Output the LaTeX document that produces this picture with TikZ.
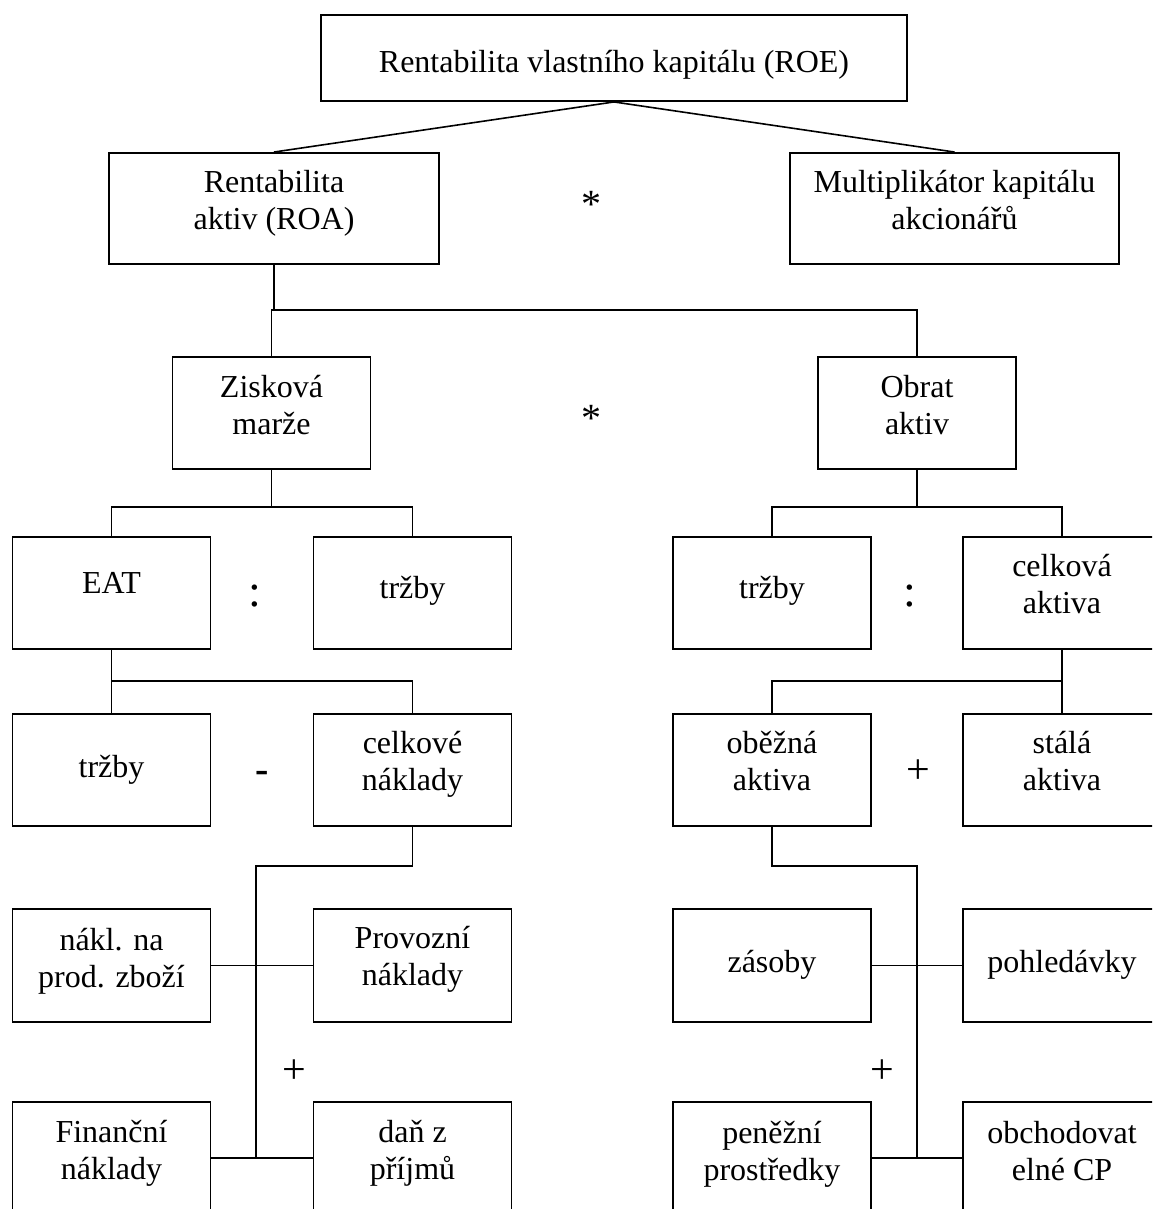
\documentclass[tikz,border=0pt]{standalone}
\usepackage{fontspec}
\setmainfont{Liberation Serif}
% two centred lines; the first baseline is the reference point
\newcommand\stackedtext[2]{\vtop{\halign{\hfil##\hfil\cr#1\cr#2\cr}}}
\begin{document}
\begin{tikzpicture}[x=1pt,y=-1pt,
  box/.style={draw, line width=1.9pt, inner sep=0pt, minimum width=198pt,
    minimum height=112pt, font=\fontsize{32}{37}\selectfont},
  tb/.style 2 args={text height=#1pt, text depth=#2pt},
  link/.style={line width=1.6pt},
  op/.style={inner sep=0pt, font=\fontsize{32}{37}\selectfont},
  bigop/.style={inner sep=0pt, font=\fontsize{42}{42}\selectfont}]

\useasboundingbox (0,0) rectangle (1152,1209);
\clip (0,0) rectangle (1152,1209);
\fill[white] (0,0) rectangle (1152,1209);

% level 0 and 1
\node[box, minimum width=586pt, minimum height=86pt, tb={58}{28}] (roe) at (614,58)
  {Rentabilita vlastního kapitálu (ROE)};
\node[box, minimum width=330pt, minimum height=111pt, tb={40}{71}] (roa) at (274,208.5)
  {\stackedtext{Rentabilita}{aktiv (ROA)}};
\node[box, minimum width=329pt, minimum height=111pt, tb={40}{71}] (mult) at (954.5,208.5)
  {\stackedtext{Multiplikátor kapitálu}{akcionářů}};
\node[op, font=\fontsize{40}{40}\selectfont] (op1) at (591,204) {*};

% level 2
\node[box, tb={40}{72}] (zisk) at (271.5,413) {\stackedtext{Zisková}{marže}};
\node[box, tb={40}{72}] (obrat) at (917,413) {\stackedtext{Obrat}{aktiv}};
\node[op, font=\fontsize{40}{40}\selectfont] (op2) at (591,418) {*};

% level 3
\node[box, tb={56}{56}] (eat) at (111.5,593) {EAT};
\node[box, tb={61}{51}] (trzA) at (412.5,593) {tržby};
\node[box, tb={61}{51}] (trzC) at (772,593) {tržby};
\node[box, tb={39}{73}] (celk) at (1062,593) {\stackedtext{celková}{aktiva}};
\node[op, font=\fontsize{46}{46}\selectfont] (op3) at (255,596) {:};
\node[op, font=\fontsize{46}{46}\selectfont] (op4) at (910,596) {:};

% level 4
\node[box, tb={63}{49}] (trzB) at (111.5,770) {tržby};
\node[box, tb={39}{73}] (naklc) at (412.5,770) {\stackedtext{celkové}{náklady}};
\node[box, tb={39}{73}] (obez) at (772,770) {\stackedtext{oběžná}{aktiva}};
\node[box, tb={39}{73}] (stala) at (1062,770) {\stackedtext{stálá}{aktiva}};
\node[op, font=\bfseries\fontsize{40}{40}\selectfont] (op5) at (262,777) {-};
\node[bigop] (op6) at (918,772) {+};

% level 5
\node[box, minimum height=113pt, tb={41}{72}] (nakl) at (111.5,965.5) {\stackedtext{nákl. na}{prod. zboží}};
\node[box, minimum height=113pt, tb={39}{74}] (prov) at (412.5,965.5) {\stackedtext{Provozní}{náklady}};
\node[box, minimum height=113pt, tb={63}{50}] (zas) at (772,965.5) {zásoby};
\node[box, minimum height=113pt, tb={63}{50}] (pohl) at (1062,965.5) {pohledávky};
\node[bigop] (op7) at (294,1072) {+};
\node[bigop] (op8) at (882,1072) {+};

% level 6
\node[box, tb={40}{72}] (fin) at (111.5,1158) {\stackedtext{Finanční}{náklady}};
\node[box, tb={40}{72}] (dan) at (412.5,1158) {\stackedtext{daň z}{příjmů}};
\node[box, tb={41}{71}] (pen) at (772,1158) {\stackedtext{peněžní}{prostředky}};
\node[box, tb={41}{71}] (obch) at (1062,1158) {\stackedtext{obchodovat}{elné CP}};

% junction levels and spines
\coordinate (j1) at (0,310);
\coordinate (j2) at (0,507);
\coordinate (j3) at (0,681);
\coordinate (spL) at (256,866);
\coordinate (spR) at (917,866);

% connectors
\draw[link] (roe.south) -- (roa.north);
\draw[link] (roe.south) -- (mult.north);
\draw[link] (roa.south) -- (roa.south |- j1);
\draw[link] (zisk.north) |- (obrat.north |- j1) -- (obrat.north);

\draw[link] (zisk.south) -- (zisk.south |- j2);
\draw[link] (eat.north) |- (trzA.north |- j2) -- (trzA.north);
\draw[link] (obrat.south) -- (obrat.south |- j2);
\draw[link] (trzC.north) |- (celk.north |- j2) -- (celk.north);

\draw[link] (eat.south) -- (trzB.north);
\draw[link] (eat.south |- j3) -| (naklc.north);
\draw[link] (celk.south) -- (stala.north);
\draw[link] (celk.south |- j3) -| (obez.north);

\draw[link] (naklc.south) |- (spL) -- (spL |- fin.east);
\draw[link] (nakl.east) -- (prov.west);
\draw[link] (fin.east) -- (dan.west);

\draw[link] (obez.south) |- (spR) -- (spR |- pen.east);
\draw[link] (zas.east) -- (pohl.west);
\draw[link] (pen.east) -- (obch.west);
\end{tikzpicture}
\end{document}
